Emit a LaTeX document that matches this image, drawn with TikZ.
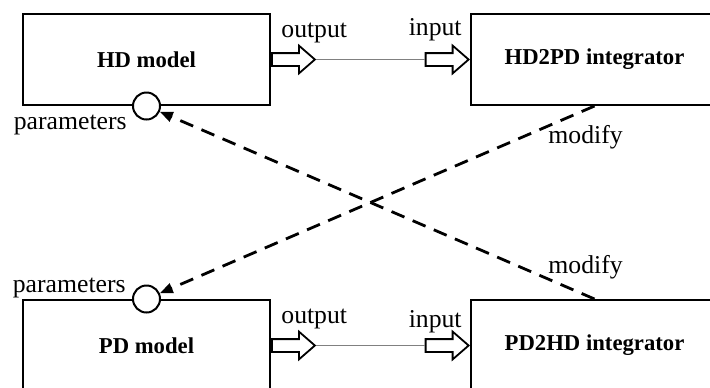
\documentclass[tikz,border=0pt]{standalone}
\usepackage{fontspec}
\setmainfont{Liberation Serif}
\usetikzlibrary{positioning, arrows.meta, shapes.arrows}

\begin{document}
\begin{tikzpicture}[node distance=96.5pt and 99.5pt,
	box/.style={draw, line width=1pt, minimum width=123.5pt, minimum height=45.5pt, inner sep=0pt, font=\fontsize{11.35pt}{13pt}\selectfont\bfseries},
	port/.style={circle, draw, line width=1pt, fill=white, minimum size=13.5pt, inner sep=0pt},
	pipe/.style={single arrow, draw, line width=0.9pt, fill=white, minimum height=21.5pt, inner xsep=0pt, inner ysep=2.75pt, single arrow head extend=3.75pt, single arrow tip angle=82},
	wire/.style={gray, line width=0.5pt},
	link/.style={line width=1.4pt, dash pattern=on 7pt off 4.5pt, -{Triangle[length=6.5pt, width=5pt]}},
	lbl/.style={inner sep=0pt, font=\fontsize{12.85pt}{15pt}\selectfont}]
		\useasboundingbox (-73.25pt,29.75pt) rectangle ++(355pt,-193.5pt);
		\node[box] (HD) {HD model}; \node[box] (HP) [right=of HD] {HD2PD integrator};
		\node[box] (PD) [below=of HD] {PD model}; \node[box] (PH) [below=of HP] {PD2HD integrator};
		% ports for parameters
		\node[port] (HDp) at (HD.south) {}; \node[port] (PDp) at (PD.north) {};
		\node[lbl, anchor=base east] at ([xshift=-2.5pt, yshift=-11.5pt]HDp.west) {parameters};
		\node[lbl, anchor=base east] at ([xshift=-3pt, yshift=3.5pt]PDp.west) {parameters};
		% output -> input
		\node[pipe, anchor=tail] (HDo) at (HD.east) {}; \node[pipe, anchor=tip] (HPi) at (HP.west) {};
		\node[pipe, anchor=tail] (PDo) at (PD.east) {}; \node[pipe, anchor=tip] (PHi) at (PH.west) {};
		\draw[wire] (HDo) -- (HPi); \draw[wire] (PDo) -- (PHi);
		\node[lbl, anchor=base west] at ([xshift=5pt, yshift=11pt]HD.east) {output};
		\node[lbl, anchor=base east] at ([xshift=-4pt, yshift=12pt]HP.west) {input};
		\node[lbl, anchor=base west] at ([xshift=5pt, yshift=11pt]PD.east) {output};
		\node[lbl, anchor=base east] at ([xshift=-4pt, yshift=9pt]PH.west) {input};
		% modify
		\draw[link] (HP.south) -- (PDp); \draw[link] (PH.north) -- (HDp);
		\node[lbl, anchor=base west] at ([xshift=-23.25pt, yshift=-18.5pt]HP.south) {modify};
		\node[lbl, anchor=base west] at ([xshift=-23.25pt, yshift=13pt]PH.north) {modify};
	\end{tikzpicture}
\end{document}
